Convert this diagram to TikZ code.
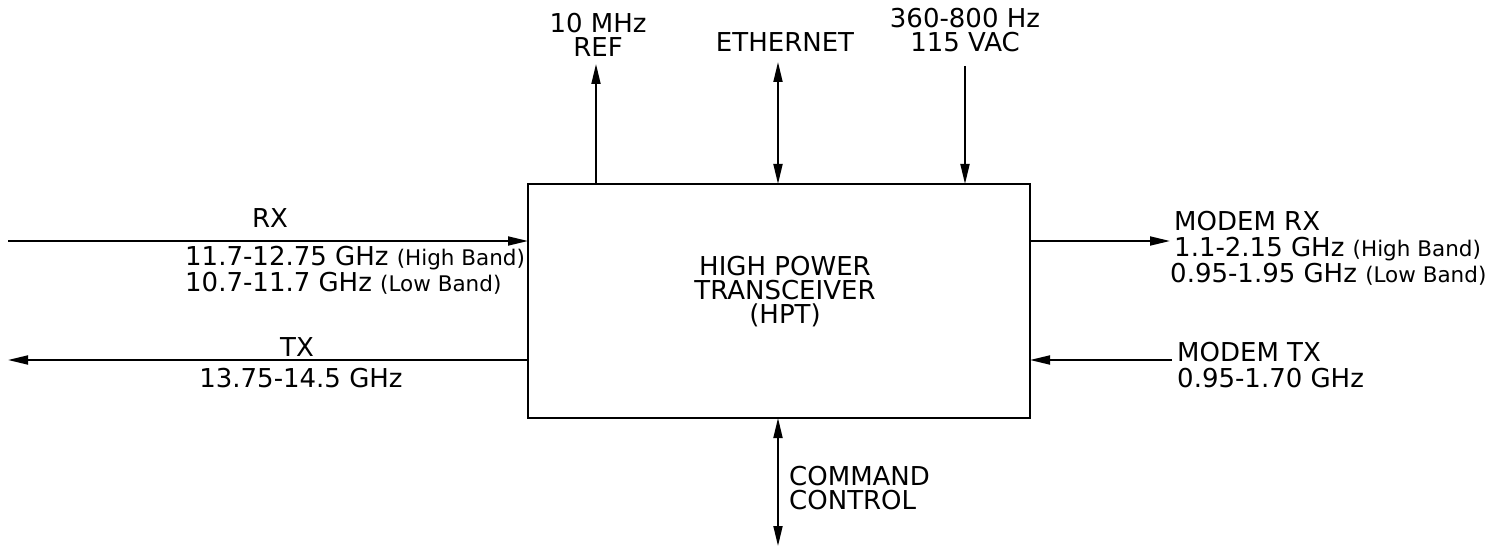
\documentclass[tikz,border=0pt]{standalone}
\usepackage{fontspec}
\setmainfont{DejaVu Sans}
\usetikzlibrary{positioning,arrows.meta,calc}
\tikzset{
  hptbox/.style={draw=black, line width=1.8pt, minimum width=502pt, minimum height=234pt,
                 inner sep=0pt, outer sep=0pt},
  hptlab/.style={font=\fontsize{26}{24}\selectfont, inner sep=0pt, align=center},
  hptleft/.style={font=\fontsize{26}{26}\selectfont, inner sep=0pt, align=left},
  hptsig/.style={line width=1.8pt, -{Triangle[length=20pt,width=9pt]}},
  hptbi/.style={line width=1.8pt, {Triangle[length=20pt,width=9pt]}-{Triangle[length=20pt,width=9pt]}},
}
\newcommand{\hptBand}[1]{{\fontsize{21.5}{21.5}\selectfont #1}}

\begin{document}
\begin{tikzpicture}[x=1pt, y=-1pt]
  \useasboundingbox (0,0) rectangle (1507,548);
  \node[hptbox] (hpt) at (779,301) {};
  \node[hptlab] (hpttxt) at (785,292) {HIGH POWER\\TRANSCEIVER\\(HPT)};

  % left side
  \coordinate (rxin) at (8,241);
  \coordinate (txout) at (8,360);
  \node[hptlab] (rxlab) at (270,218) {RX};
  \node[hptleft, anchor=west] (rxfreq) at (185,270)
    {11.7-12.75 GHz \hptBand{(High Band)}\\10.7-11.7 GHz \hptBand{(Low Band)}};
  \node[hptlab] (txlab) at (297,347) {TX};
  \node[hptlab] (txfreq) at (301,378) {13.75-14.5 GHz};
  \draw[hptsig] (rxin) -- (rxin -| hpt.west);
  \draw[hptsig] (txout -| hpt.west) -- (txout);

  % right side
  \node[hptleft, anchor=west] (mrxlab) at (1170,248)
    {\hspace*{4pt}MODEM RX\\\hspace*{4pt}1.1-2.15 GHz \hptBand{(High Band)}\\0.95-1.95 GHz \hptBand{(Low Band)}};
  \node[hptleft, anchor=west] (mtxlab) at (1177,365) {MODEM TX\\0.95-1.70 GHz};
  \coordinate (mrxout) at (1170,241);
  \coordinate (mtxin) at (1172,360);
  \draw[hptsig] (mrxout -| hpt.east) -- (mrxout);
  \draw[hptsig] (mtxin) -- (mtxin -| hpt.east);

  % top
  \node[hptlab] (reflab) at (598,35) {10 MHz\\REF};
  \node[hptlab] (ethlab) at (785,42) {ETHERNET};
  \node[hptlab] (pwrlab) at (965,30) {360-800 Hz\\115 VAC};
  \coordinate (refout) at (596,64);
  \coordinate (eth) at (778,62);
  \coordinate (pwrin) at (965,66);
  \draw[hptsig] (refout |- hpt.north) -- (refout);
  \draw[hptbi] (eth) -- (eth |- hpt.north);
  \draw[hptsig] (pwrin) -- (pwrin |- hpt.north);

  % bottom
  \coordinate (cmd) at (778,546);
  \node[hptleft, anchor=west, font=\fontsize{26}{24}\selectfont] (cmdlab) at (789,488) {COMMAND\\CONTROL};
  \draw[hptbi] (cmd |- hpt.south) -- (cmd);
\end{tikzpicture}
\end{document}
